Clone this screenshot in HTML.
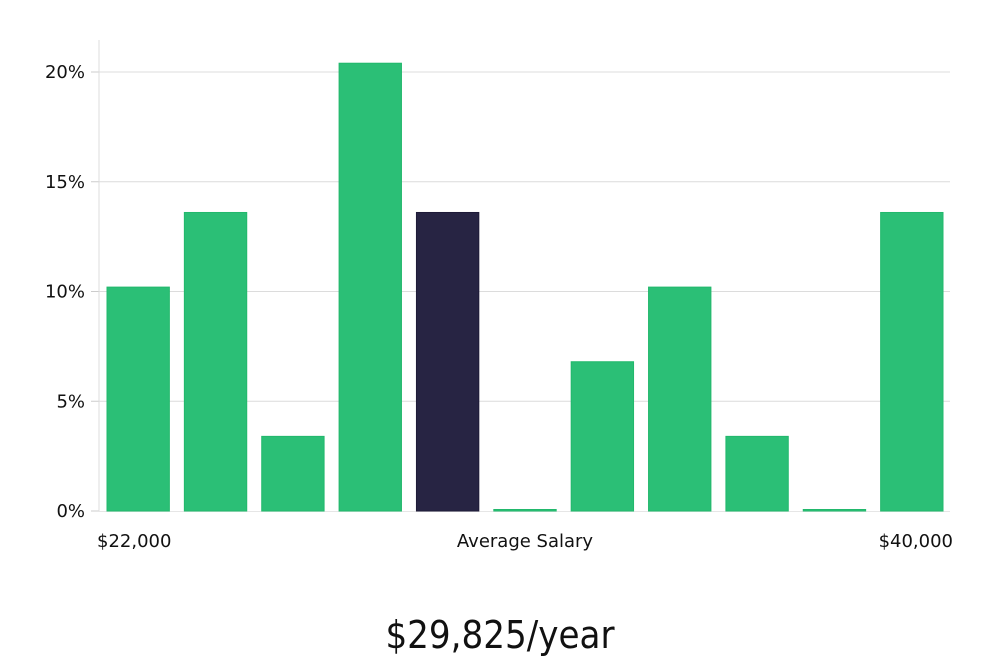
<!DOCTYPE html>
<html><head><meta charset="utf-8"><style>
html,body{margin:0;padding:0;background:#fff;width:1000px;height:660px;overflow:hidden}
text{font-family:"DejaVu Sans","Liberation Sans",sans-serif}
</style></head><body>
<svg id="chart" width="1000" height="660" xmlns="http://www.w3.org/2000/svg">
<g id="grid"></g>
<g id="bars"></g>
<g id="yaxis"></g>
<text x="97" y="547" font-size="18" fill="#111">$22,000</text>
<text x="525" y="547" font-size="18" fill="#111" text-anchor="middle">Average Salary</text>
<text x="953" y="547" font-size="18" fill="#111" text-anchor="end">$40,000</text>
<text x="500" y="648" font-size="38" fill="#111" text-anchor="middle" style="font-family:'Liberation Sans Narrow','DejaVu Sans Condensed',sans-serif">$29,825/year</text>
</svg>
<script>
const categories = ["b1","b2","b3","b4","b5","b6","b7","b8","b9","b10","b11"];
const values = [10.2, 13.6, 3.4, 20.4, 13.6, 0, 6.8, 10.2, 3.4, 0, 13.6];
const highlightIndex = 4;
const yTicks = [0, 5, 10, 15, 20];
const yTickLabels = ["0%", "5%", "10%", "15%", "20%"];

const NS = "http://www.w3.org/2000/svg";
const x0 = 99, x1 = 950, yBase = 511, yTop20 = 72;
const y = v => yBase - v * (yBase - yTop20) / 20;
const band = (x1 - x0) / categories.length;
const xb = i => x0 + i * band;

const grid = document.getElementById("grid");
const yaxis = document.getElementById("yaxis");
yTicks.forEach((t, i) => {
  const yy = y(t);
  if (t > 0) {
    const l = document.createElementNS(NS, "line");
    
    
    l.setAttribute("x1", x0); l.setAttribute("x2", x1);
    l.setAttribute("y1", yy); l.setAttribute("y2", yy);
    l.setAttribute("stroke", "#dcdcdc"); l.setAttribute("stroke-width", "1");
    grid.appendChild(l);
  }
  const tk = document.createElementNS(NS, "line");
  
  
  tk.setAttribute("x1", x0 - 8); tk.setAttribute("x2", x0);
  tk.setAttribute("y1", yy); tk.setAttribute("y2", yy);
  tk.setAttribute("stroke", "#ccc");
  yaxis.appendChild(tk);
  const tx = document.createElementNS(NS, "text");
  
  
  tx.setAttribute("x", x0 - 14); tx.setAttribute("y", yy + 6);
  tx.setAttribute("text-anchor", "end"); tx.setAttribute("font-size", "18");
  tx.setAttribute("fill", "#111");
  tx.textContent = yTickLabels[i];
  yaxis.appendChild(tx);
});
const ax = document.createElementNS(NS, "line");


ax.setAttribute("x1", x0); ax.setAttribute("x2", x0);
ax.setAttribute("y1", 40); ax.setAttribute("y2", yBase);
ax.setAttribute("stroke", "#dcdcdc");
yaxis.appendChild(ax);
const base = document.createElementNS(NS, "line");


base.setAttribute("x1", x0); base.setAttribute("x2", x1);
base.setAttribute("y1", yBase + 0.5); base.setAttribute("y2", yBase + 0.5);
base.setAttribute("stroke", "#e6e6e6");
grid.appendChild(base);

const bars = document.getElementById("bars");
values.forEach((v, i) => {
  const r = document.createElementNS(NS, "rect");
  
  
  const top = y(v);
  const h = Math.max(yBase - top, 1.5);
  r.setAttribute("x", xb(i) + 8);
  r.setAttribute("y", yBase - h);
  r.setAttribute("width", band - 15);
  r.setAttribute("height", h);
  const dark = i === highlightIndex;
  r.setAttribute("fill", dark ? "#272443" : "#2bbf76");
  r.setAttribute("stroke", dark ? "#1e1b38" : "#22b86c");
  r.setAttribute("stroke-width", "1");
  bars.appendChild(r);
});
</script>
</body></html>
